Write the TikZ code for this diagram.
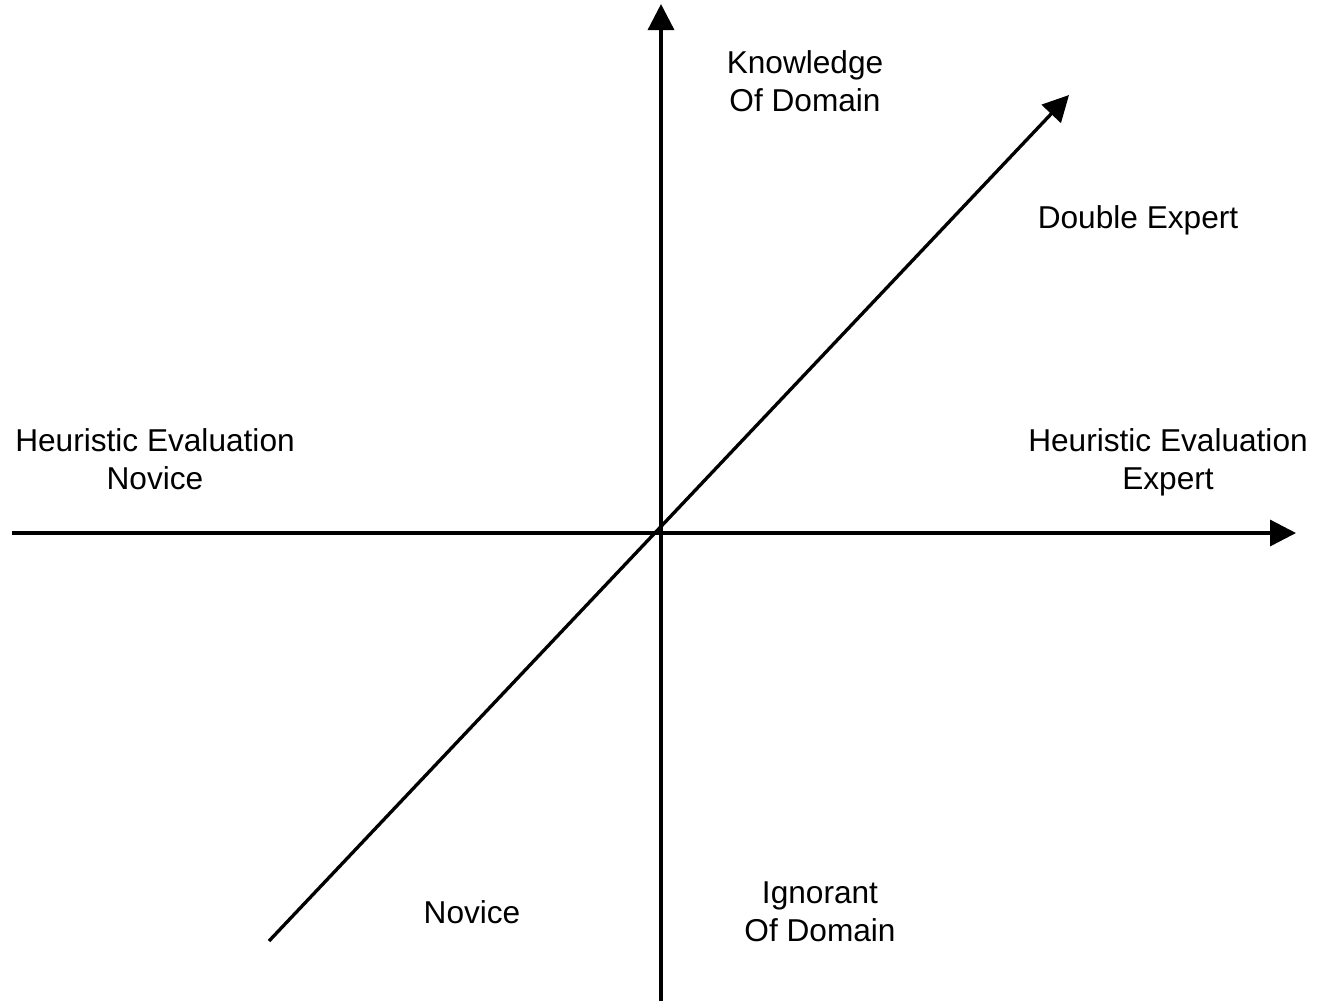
\documentclass[tikz,border=0pt]{standalone}
\usepackage{fontspec}
\setmainfont{Liberation Sans}
\usetikzlibrary{arrows.meta}
\begin{document}
\begin{tikzpicture}[x=0.02cm,y=-0.02cm,
  axis/.style={line width=1.9pt,-{Triangle[length=0.52cm,width=0.52cm]}},
  lbl/.style={align=center,inner sep=0pt,font=\fontsize{18}{21.6}\selectfont}]
\useasboundingbox (0,0) rectangle (1317,1002);
% axes
\coordinate (west) at (12,533);
\coordinate (east) at (1296,533);
\coordinate (south) at (661,1001);
\coordinate (north) at (661,4);
\coordinate (low) at (269,941);
\coordinate (high) at (1069,95);
\draw[axis] (west) -- (east);
\draw[axis] (south) -- (north);
\draw[axis] (low) -- (high);
% labels
\node[lbl] (knowledge) at (805,81) {Knowledge\\Of Domain};
\node[lbl] (double) at (1138,220) {Double Expert};
\node[lbl] (henovice) at (155,459) {Heuristic Evaluation\\Novice};
\node[lbl] (heexpert) at (1168,462) {Heuristic Evaluation\\Expert};
\node[lbl] (novice) at (472,912) {Novice};
\node[lbl] (ignorant) at (820,912) {Ignorant\\Of Domain};
\end{tikzpicture}
\end{document}
